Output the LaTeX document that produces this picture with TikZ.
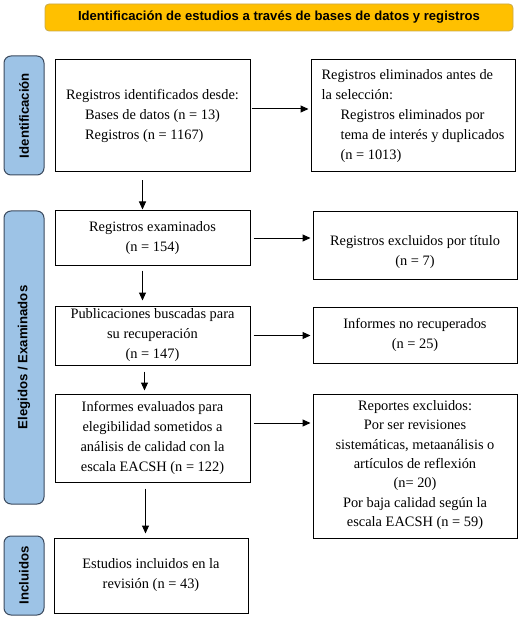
\documentclass[tikz,border=0pt]{standalone}
\usepackage{fontspec}
\setmainfont{Liberation Serif}
\setsansfont{Liberation Sans}
\usetikzlibrary{arrows.meta,positioning}

\definecolor{barblue}{HTML}{9DC3E6}
\definecolor{barline}{HTML}{3B4A5E}
\definecolor{titleorange}{HTML}{FFC000}
\definecolor{titleline}{HTML}{C8A94A}

\tikzset{
  box/.style = {draw, line width = 1pt, align = center, inner sep = 2pt,
                font = \fontsize{14.4}{20}\selectfont},
  boxtext/.style = {align = center, inner sep = 0pt,
                    font = \fontsize{14.4}{19.3}\selectfont},
  sidebar/.style = {draw = barline, fill = barblue, line width = 1pt,
                    rounded corners = 7pt, rotate = 90, minimum height = 40pt,
                    font = \sffamily\bfseries\fontsize{13.2}{15}\selectfont},
  titlebar/.style = {draw = titleline, fill = titleorange, line width = 0.8pt,
                     rounded corners = 4pt,
                     font = \sffamily\bfseries\fontsize{13.1}{15}\selectfont},
  arr/.style = {line width = 1pt, -{Triangle[length = 8pt, width = 7pt]}}
}

\begin{document}
\begin{tikzpicture}[x = 1pt, y = -1pt]

\useasboundingbox (0,0) rectangle (531,620);

% header
\node[titlebar, minimum width = 468pt, minimum height = 27pt] (T) at (279,17.5)
  {Identificación de estudios a través de bases de datos y registros};

% phases
\node[sidebar, minimum width = 119pt] (S1) at (24,115.5) {Identificación};
\node[sidebar, minimum width = 293pt] (S2) at (24,357.5) {Elegidos / Examinados};
\node[sidebar, minimum width = 79pt] (S3) at (24,575.5) {Incluidos};

% left column
\node[box, align = left, minimum width = 195pt, minimum height = 112pt] (ident) at (152.5,116)
  {Registros identificados desde:\\
   \hspace*{19pt}Bases de datos (n = 13)\\
   \hspace*{19pt}Registros (n = 1167)};
\node[box, minimum width = 195pt, minimum height = 54pt] (exam) at (152.5,238)
  {Registros examinados\\(n = 154)};
\node[box, minimum width = 195pt, minimum height = 59pt] (busc) at (152.5,335.5)
  {Publicaciones buscadas para\\su recuperación\\(n = 147)};
\node[box, minimum width = 195pt, minimum height = 88pt] (eval) at (152.5,438)
  {Informes evaluados para\\elegibilidad sometidos a\\análisis de calidad con la\\escala EACSH (n = 122)};
\node[box, minimum width = 194pt, minimum height = 75pt] (incl) at (151,575.5)
  {Estudios incluidos en la\\revisión (n = 43)};

% right column
\node[box, align = left, minimum width = 204pt, minimum height = 112pt] (elim) at (413,116)
  {Registros eliminados antes de\\
   la selección:\\
   \hspace*{19pt}Registros eliminados por\\
   \hspace*{19pt}tema de interés y duplicados\\
   \hspace*{19pt}(n = 1013)};
\node[box, minimum width = 204pt, minimum height = 67pt] (tit) at (415,245.5) {};
\node[boxtext, below = 24pt of tit.north] (titT)
  {Registros excluidos por título\\(n = 7)};
\node[box, minimum width = 204pt, minimum height = 56pt] (norec) at (415,335)
  {Informes no recuperados\\(n = 25)};
\node[box, minimum width = 204pt, minimum height = 144pt] (rep) at (415,466) {};
\node[boxtext, below = 7pt of rep.north] (repT)
  {Reportes excluidos:\\Por ser revisiones\\sistemáticas, metaanálisis o\\artículos de reflexión\\(n= 20)\\Por baja calidad según la\\escala EACSH (n = 59)};

% flow down
\draw[arr, shorten <= 8pt, shorten >= 1pt] ([xshift = -10pt]ident.south) -- ([xshift = -10pt]ident.south |- exam.north);
\draw[arr, shorten <= 5pt, shorten >= 5pt] ([xshift = -10pt]exam.south) -- ([xshift = -10pt]exam.south |- busc.north);
\draw[arr, shorten <= 6pt, shorten >= 3pt] ([xshift = -8pt]busc.south) -- ([xshift = -8pt]busc.south |- eval.north);
\draw[arr, shorten <= 6pt, shorten >= 4pt] ([xshift = -7pt]eval.south) -- ([xshift = -7pt]eval.south |- incl.north);

% exclusions
\draw[arr, shorten <= 1pt, shorten >= 2pt] ([yshift = 7pt]ident.east) -- ([yshift = 7pt]ident.east -| elim.west);
\draw[arr, shorten <= 3pt, shorten >= 2pt] (exam.east) -- (exam.east -| tit.west);
\draw[arr, shorten <= 3pt, shorten >= 2pt] (busc.east) -- (busc.east -| norec.west);
\draw[arr, shorten <= 3pt, shorten >= 2pt] ([yshift = 15pt]eval.east) -- ([yshift = 15pt]eval.east -| rep.west);

\end{tikzpicture}
\end{document}
